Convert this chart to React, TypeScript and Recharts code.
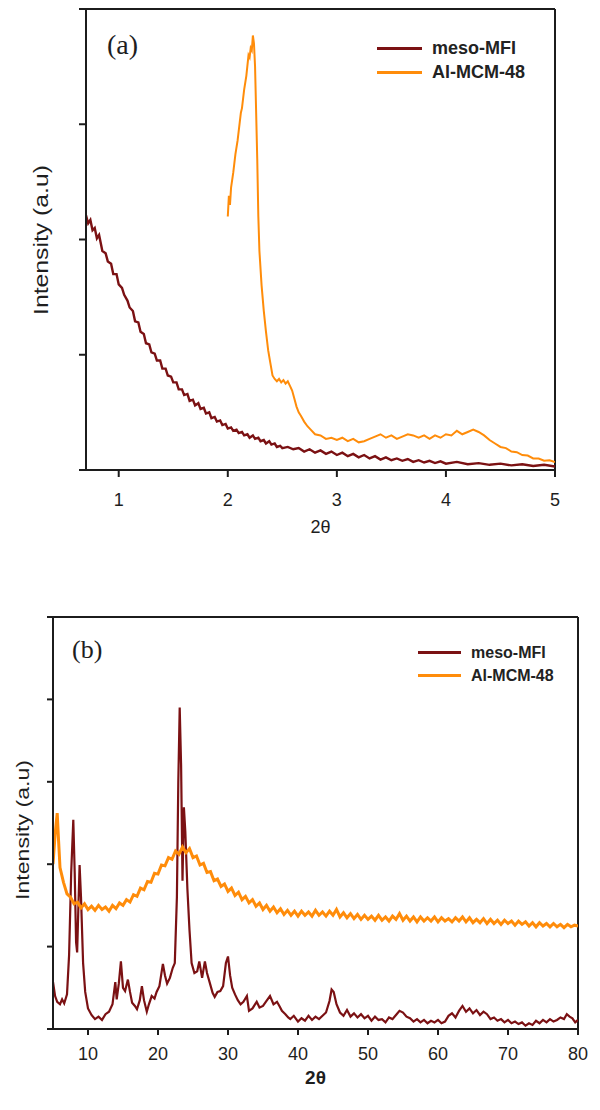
import React from "react";
import { LineChart, Line, XAxis, YAxis, Legend, ReferenceLine } from "recharts";

const MESO_COLOR = "#7b1113";
const MCM_COLOR = "#ff8c0a";
const AXIS_COLOR = "#1c1c1c";
const SANS = "'Liberation Sans', Arial, sans-serif";
const SERIF = "'Liberation Serif', 'Times New Roman', serif";

const seriesNames = ["meso-MFI", "Al-MCM-48"];

// panel (a): low angle
const xTicksA = [1, 2, 3, 4, 5];
const yTicksA = [0, 1, 2, 3, 4];

const mesoA: [number, number][] = [
  [0.7, 2.21], [0.72, 2.14], [0.74, 2.17], [0.76, 2.08], [0.78, 2.1], [0.8, 2.01], [0.82, 2.04],
  [0.85, 1.9], [0.88, 1.88], [0.9, 1.81], [0.93, 1.79], [0.95, 1.7], [0.98, 1.7], [1.0, 1.61],
  [1.03, 1.58], [1.05, 1.52], [1.08, 1.47], [1.1, 1.41], [1.13, 1.38], [1.15, 1.29], [1.18, 1.28],
  [1.2, 1.2], [1.23, 1.18], [1.25, 1.1], [1.28, 1.09], [1.3, 1.02], [1.33, 1.01], [1.35, 0.95],
  [1.38, 0.95], [1.4, 0.88], [1.43, 0.88], [1.45, 0.82], [1.48, 0.81], [1.5, 0.76], [1.53, 0.76],
  [1.55, 0.7], [1.58, 0.7], [1.6, 0.65], [1.63, 0.66], [1.65, 0.6], [1.68, 0.61], [1.7, 0.56],
  [1.73, 0.58], [1.75, 0.53], [1.78, 0.54], [1.8, 0.49], [1.83, 0.5], [1.85, 0.45], [1.88, 0.46],
  [1.9, 0.42], [1.93, 0.43], [1.95, 0.39], [1.98, 0.4], [2.0, 0.36], [2.03, 0.37], [2.05, 0.34],
  [2.08, 0.35], [2.1, 0.32], [2.13, 0.33], [2.15, 0.3], [2.18, 0.31], [2.2, 0.28], [2.23, 0.3],
  [2.25, 0.27], [2.28, 0.28], [2.3, 0.25], [2.33, 0.26], [2.35, 0.23], [2.38, 0.25], [2.4, 0.22],
  [2.43, 0.23], [2.45, 0.2], [2.48, 0.21], [2.5, 0.19], [2.55, 0.2], [2.6, 0.18], [2.65, 0.19],
  [2.7, 0.16], [2.75, 0.18], [2.8, 0.15], [2.85, 0.17], [2.9, 0.14], [2.95, 0.16], [3.0, 0.13],
  [3.05, 0.15], [3.1, 0.12], [3.15, 0.14], [3.2, 0.11], [3.25, 0.13], [3.3, 0.1], [3.35, 0.12],
  [3.4, 0.09], [3.45, 0.11], [3.5, 0.085], [3.55, 0.1], [3.6, 0.08], [3.65, 0.095], [3.7, 0.07],
  [3.75, 0.085], [3.8, 0.065], [3.85, 0.08], [3.9, 0.06], [3.95, 0.075], [4.0, 0.055], [4.1, 0.07],
  [4.2, 0.05], [4.3, 0.06], [4.4, 0.045], [4.5, 0.055], [4.6, 0.04], [4.7, 0.05], [4.8, 0.035],
  [4.9, 0.045], [5.0, 0.03],
];

const mcmA: [number, number][] = [
  [2.0, 2.2], [2.01, 2.38], [2.02, 2.3], [2.03, 2.45], [2.05, 2.58], [2.07, 2.74], [2.09, 2.86],
  [2.11, 3.02], [2.12, 3.1], [2.13, 3.14], [2.15, 3.3], [2.17, 3.42], [2.19, 3.6], [2.2, 3.58],
  [2.21, 3.66], [2.22, 3.64], [2.23, 3.77], [2.24, 3.7], [2.25, 3.5], [2.26, 3.1], [2.27, 2.7],
  [2.28, 2.2], [2.29, 1.9], [2.31, 1.6], [2.33, 1.38], [2.35, 1.2], [2.37, 1.04], [2.39, 0.93],
  [2.41, 0.82], [2.43, 0.79], [2.45, 0.77], [2.47, 0.79], [2.49, 0.76], [2.51, 0.78], [2.53, 0.75],
  [2.55, 0.77], [2.57, 0.73], [2.59, 0.69], [2.61, 0.62], [2.63, 0.55], [2.65, 0.5], [2.67, 0.47],
  [2.7, 0.42], [2.73, 0.38], [2.76, 0.35], [2.8, 0.31], [2.85, 0.3], [2.9, 0.27], [2.95, 0.28],
  [3.0, 0.26], [3.05, 0.28], [3.1, 0.25], [3.15, 0.27], [3.2, 0.24], [3.25, 0.25], [3.3, 0.27],
  [3.35, 0.29], [3.4, 0.31], [3.45, 0.28], [3.5, 0.3], [3.55, 0.27], [3.6, 0.29], [3.65, 0.31],
  [3.7, 0.3], [3.75, 0.28], [3.8, 0.3], [3.85, 0.27], [3.9, 0.3], [3.95, 0.28], [4.0, 0.31],
  [4.05, 0.3], [4.1, 0.34], [4.15, 0.31], [4.2, 0.33], [4.25, 0.35], [4.3, 0.33], [4.35, 0.3],
  [4.4, 0.26], [4.45, 0.23], [4.5, 0.2], [4.55, 0.19], [4.6, 0.16], [4.65, 0.155], [4.7, 0.13],
  [4.75, 0.125], [4.8, 0.1], [4.85, 0.1], [4.9, 0.08], [4.95, 0.085], [5.0, 0.07],
];

// panel (b): wide angle
const xTicksB = [10, 20, 30, 40, 50, 60, 70, 80];
const yTicksB = [0, 1, 2, 3, 4, 5];

const mesoB: [number, number][] = [
  [5.0, 0.57], [5.3, 0.4], [5.6, 0.33], [6.0, 0.3], [6.3, 0.36], [6.6, 0.31], [7.0, 0.42],
  [7.3, 0.9], [7.6, 1.9], [7.9, 2.54], [8.1, 1.9], [8.3, 1.05], [8.45, 0.93], [8.6, 1.4],
  [8.8, 1.99], [9.0, 1.6], [9.3, 0.8], [9.6, 0.45], [10.0, 0.25], [10.5, 0.17], [11.0, 0.12],
  [11.5, 0.15], [12.0, 0.11], [12.5, 0.18], [13.0, 0.21], [13.5, 0.3], [13.9, 0.57], [14.1, 0.36],
  [14.4, 0.55], [14.7, 0.82], [15.0, 0.5], [15.3, 0.46], [15.7, 0.6], [16.0, 0.45], [16.3, 0.32],
  [16.7, 0.28], [17.0, 0.24], [17.4, 0.35], [17.7, 0.52], [18.0, 0.35], [18.4, 0.21], [18.7, 0.3],
  [19.1, 0.4], [19.5, 0.37], [19.8, 0.45], [20.2, 0.52], [20.7, 0.79], [21.0, 0.65], [21.3, 0.55],
  [21.7, 0.62], [22.1, 0.74], [22.4, 0.8], [22.7, 1.6], [22.9, 3.0], [23.1, 3.9], [23.3, 3.2],
  [23.5, 1.8], [23.7, 2.69], [23.9, 2.4], [24.2, 1.7], [24.5, 1.2], [24.8, 0.8], [25.2, 0.68],
  [25.6, 0.7], [25.9, 0.82], [26.3, 0.62], [26.7, 0.82], [27.0, 0.68], [27.4, 0.56], [27.8, 0.44],
  [28.1, 0.39], [28.5, 0.45], [28.9, 0.46], [29.3, 0.52], [29.7, 0.8], [30.0, 0.88], [30.3, 0.65],
  [30.6, 0.5], [31.0, 0.42], [31.4, 0.35], [31.8, 0.3], [32.2, 0.33], [32.7, 0.4], [33.0, 0.22],
  [33.5, 0.25], [34.1, 0.33], [34.5, 0.26], [35.0, 0.28], [35.5, 0.34], [36.0, 0.4], [36.5, 0.3],
  [37.0, 0.33], [37.4, 0.27], [37.7, 0.22], [38.2, 0.18], [38.6, 0.14], [38.9, 0.12], [39.4, 0.16],
  [40.0, 0.09], [40.5, 0.13], [41.0, 0.1], [41.5, 0.16], [42.0, 0.11], [42.5, 0.15], [43.0, 0.12],
  [43.5, 0.16], [44.0, 0.2], [44.5, 0.34], [44.8, 0.48], [45.1, 0.45], [45.5, 0.3], [46.0, 0.2],
  [46.5, 0.16], [47.0, 0.23], [47.5, 0.15], [48.0, 0.19], [48.5, 0.14], [49.0, 0.18], [49.5, 0.13],
  [50.0, 0.16], [50.5, 0.1], [51.0, 0.15], [51.5, 0.11], [52.0, 0.12], [52.5, 0.08], [53.0, 0.14],
  [53.5, 0.12], [54.0, 0.17], [54.5, 0.22], [55.0, 0.2], [55.5, 0.15], [56.0, 0.13], [56.5, 0.09],
  [57.0, 0.12], [57.5, 0.08], [58.0, 0.11], [58.5, 0.07], [59.0, 0.1], [59.5, 0.08], [60.0, 0.11],
  [60.5, 0.07], [61.0, 0.09], [61.5, 0.16], [62.0, 0.19], [62.5, 0.14], [63.0, 0.22], [63.5, 0.28],
  [64.0, 0.21], [64.5, 0.25], [65.0, 0.19], [65.5, 0.23], [66.0, 0.17], [66.5, 0.21], [67.0, 0.18],
  [67.5, 0.12], [68.0, 0.14], [68.5, 0.1], [69.0, 0.12], [69.5, 0.08], [70.0, 0.11], [70.5, 0.07],
  [71.0, 0.09], [71.5, 0.06], [72.0, 0.08], [72.5, 0.04], [73.0, 0.07], [73.5, 0.05], [74.0, 0.1],
  [74.5, 0.07], [75.0, 0.11], [75.5, 0.08], [76.0, 0.12], [76.5, 0.09], [77.0, 0.11], [77.5, 0.14],
  [78.0, 0.12], [78.4, 0.18], [78.8, 0.15], [79.2, 0.13], [79.6, 0.08], [80.0, 0.11],
];

const mcmB: [number, number][] = [
  [5.0, 2.0], [5.3, 2.36], [5.6, 2.62], [5.8, 2.28], [6.0, 1.96], [6.5, 1.78], [7.0, 1.64],
  [7.5, 1.6], [8.0, 1.52], [8.5, 1.54], [9.0, 1.47], [9.5, 1.52], [10.0, 1.45], [10.5, 1.49],
  [11.0, 1.44], [11.5, 1.5], [12.0, 1.45], [12.5, 1.48], [13.0, 1.43], [13.5, 1.5], [14.0, 1.46],
  [14.5, 1.53], [15.0, 1.5], [15.5, 1.57], [16.0, 1.54], [16.5, 1.63], [17.0, 1.61], [17.5, 1.71],
  [18.0, 1.69], [18.5, 1.79], [19.0, 1.78], [19.5, 1.89], [20.0, 1.88], [20.5, 1.99], [21.0, 1.98],
  [21.5, 2.08], [22.0, 2.06], [22.5, 2.16], [23.0, 2.12], [23.5, 2.21], [24.0, 2.14], [24.5, 2.19],
  [25.0, 2.08], [25.5, 2.1], [26.0, 1.99], [26.5, 2.01], [27.0, 1.9], [27.5, 1.91], [28.0, 1.8],
  [28.5, 1.82], [29.0, 1.73], [29.5, 1.76], [30.0, 1.67], [30.5, 1.71], [31.0, 1.62], [31.5, 1.66],
  [32.0, 1.57], [32.5, 1.61], [33.0, 1.53], [33.5, 1.57], [34.0, 1.49], [34.5, 1.53], [35.0, 1.45],
  [35.5, 1.5], [36.0, 1.43], [36.5, 1.48], [37.0, 1.41], [37.5, 1.46], [38.0, 1.39], [38.5, 1.44],
  [39.0, 1.38], [39.5, 1.43], [40.0, 1.37], [40.5, 1.43], [41.0, 1.38], [41.5, 1.42], [42.0, 1.37],
  [42.5, 1.44], [43.0, 1.38], [43.5, 1.42], [44.0, 1.37], [44.5, 1.43], [45.0, 1.38], [45.5, 1.45],
  [46.0, 1.36], [46.5, 1.41], [47.0, 1.35], [47.5, 1.4], [48.0, 1.34], [48.5, 1.39], [49.0, 1.33],
  [49.5, 1.38], [50.0, 1.33], [50.5, 1.37], [51.0, 1.32], [51.5, 1.38], [52.0, 1.32], [52.5, 1.36],
  [53.0, 1.31], [53.5, 1.37], [54.0, 1.33], [54.5, 1.4], [55.0, 1.32], [55.5, 1.37], [56.0, 1.31],
  [56.5, 1.36], [57.0, 1.3], [57.5, 1.36], [58.0, 1.31], [58.5, 1.35], [59.0, 1.31], [59.5, 1.36],
  [60.0, 1.3], [60.5, 1.35], [61.0, 1.31], [61.5, 1.34], [62.0, 1.3], [62.5, 1.35], [63.0, 1.31],
  [63.5, 1.36], [64.0, 1.3], [64.5, 1.35], [65.0, 1.29], [65.5, 1.33], [66.0, 1.29], [66.5, 1.34],
  [67.0, 1.28], [67.5, 1.33], [68.0, 1.28], [68.5, 1.32], [69.0, 1.27], [69.5, 1.32], [70.0, 1.28],
  [70.5, 1.31], [71.0, 1.26], [71.5, 1.31], [72.0, 1.27], [72.5, 1.3], [73.0, 1.25], [73.5, 1.29],
  [74.0, 1.24], [74.5, 1.29], [75.0, 1.25], [75.5, 1.28], [76.0, 1.24], [76.5, 1.28], [77.0, 1.24],
  [77.5, 1.27], [78.0, 1.23], [78.5, 1.27], [79.0, 1.24], [79.5, 1.26], [80.0, 1.25],
];

const toRows = (pts: [number, number][]) => pts.map(([t, v]) => ({ t, v }));

type PanelProps = {
  top: number;
  height: number;
  margin: { top: number; right: number; bottom: number; left: number };
  xDomain: [number, number];
  xTicks: number[];
  yDomain: [number, number];
  yTicks: number[];
  meso: [number, number][];
  mcm: [number, number][];
  mesoWidth: number;
  mcmWidth: number;
  tickMargin: number;
  tickSize: number;
  letter: string;
  letterPos: { left: number; top: number; size: number };
  legendPos: { left: number; top: number; size: number; row: number; line: number; weight: string };
  yLabel: { x: number; y: number; size: number; len: number };
  xLabel: { y: number; size: number; weight: string };
};

function Panel(p: PanelProps) {
  const renderLegend = () => (
    <div style={{ fontFamily: SANS }}>
      {seriesNames.map((name, i) => (
        <div
          key={name}
          style={{ display: "flex", alignItems: "center", height: p.legendPos.row }}
        >
          <span
            style={{
              display: "inline-block",
              width: p.legendPos.line,
              height: 3,
              background: i === 0 ? MESO_COLOR : MCM_COLOR,
              marginRight: 10,
            }}
          />
          <span
            style={{
              fontSize: p.legendPos.size,
              fontWeight: p.legendPos.weight as any,
              color: "#222",
              whiteSpace: "nowrap",
            }}
          >
            {name}
          </span>
        </div>
      ))}
    </div>
  );

  return (
    <div style={{ position: "absolute", left: 0, top: p.top, width: 600, height: p.height }}>
      <LineChart width={600} height={p.height} margin={p.margin}>
        <XAxis
          dataKey="t"
          type="number"
          domain={p.xDomain}
          ticks={p.xTicks}
          allowDataOverflow
          height={30}
          axisLine={{ stroke: AXIS_COLOR, strokeWidth: 2 }}
          tickLine={{ stroke: AXIS_COLOR, strokeWidth: 2 }}
          tickSize={p.tickSize}
          tickMargin={p.tickMargin}
          tick={{ fill: "#1e1e1e", fontSize: 18, fontFamily: SANS }}
          label={{
            content: () => (
              <text
                x={(p.margin.left + 30 + 600 - p.margin.right) / 2}
                y={p.xLabel.y}
                textAnchor="middle"
                dominantBaseline="central"
                fontFamily={SANS}
                fontSize={p.xLabel.size}
                fontWeight={p.xLabel.weight}
                fill="#1e1e1e"
              >
                2θ
              </text>
            ),
          }}
        />
        <YAxis
          type="number"
          domain={p.yDomain}
          ticks={p.yTicks}
          allowDataOverflow
          width={30}
          axisLine={{ stroke: AXIS_COLOR, strokeWidth: 2 }}
          tickLine={{ stroke: AXIS_COLOR, strokeWidth: 2 }}
          tickSize={p.tickSize}
          tickFormatter={() => ""}
          label={{
            content: () => (
              <text
                x={p.yLabel.x}
                y={p.yLabel.y}
                transform={`rotate(-90 ${p.yLabel.x} ${p.yLabel.y})`}
                textAnchor="middle"
                dominantBaseline="central"
                fontFamily={SANS}
                fontSize={p.yLabel.size}
                textLength={p.yLabel.len}
                lengthAdjust="spacingAndGlyphs"
                fill="#1e1e1e"
              >
                Intensity (a.u)
              </text>
            ),
          }}
        />
        <ReferenceLine y={p.yDomain[1]} stroke={AXIS_COLOR} strokeWidth={2} />
        <ReferenceLine x={p.xDomain[1]} stroke={AXIS_COLOR} strokeWidth={2} />
        <Legend
          layout="vertical"
          align="center"
          verticalAlign="middle"
          content={renderLegend}
          wrapperStyle={{ left: p.legendPos.left, top: p.legendPos.top, width: "auto" }}
        />
        <Line
          data={toRows(p.meso)}
          dataKey="v"
          name={seriesNames[0]}
          type="linear"
          stroke={MESO_COLOR}
          strokeWidth={p.mesoWidth}
          dot={false}
          isAnimationActive={false}
        />
        <Line
          data={toRows(p.mcm)}
          dataKey="v"
          name={seriesNames[1]}
          type="linear"
          stroke={MCM_COLOR}
          strokeWidth={p.mcmWidth}
          dot={false}
          isAnimationActive={false}
        />
      </LineChart>
      <div
        style={{
          position: "absolute",
          left: p.letterPos.left,
          top: p.letterPos.top,
          fontFamily: SERIF,
          fontSize: p.letterPos.size,
          lineHeight: `${p.letterPos.size}px`,
          color: "#1e1e1e",
        }}
      >
        {p.letter}
      </div>
    </div>
  );
}

export default function App() {
  return (
    <div style={{ position: "absolute", left: 0, top: 0, width: 600, height: 1110, background: "#fff" }}>
      <Panel
        top={0}
        height={560}
        margin={{ top: 9, right: 45, bottom: 60, left: 56 }}
        xDomain={[0.7, 5]}
        xTicks={xTicksA}
        yDomain={[0, 4]}
        yTicks={yTicksA}
        meso={mesoA}
        mcm={mcmA}
        mesoWidth={2.4}
        mcmWidth={2}
        tickMargin={16}
        tickSize={7}
        letter="(a)"
        letterPos={{ left: 107, top: 31, size: 28 }}
        legendPos={{ left: 377, top: 36, size: 18, row: 24, line: 45, weight: "bold" }}
        yLabel={{ x: 40, y: 240, size: 21, len: 150 }}
        xLabel={{ y: 527, size: 18, weight: "normal" }}
      />
      <Panel
        top={560}
        height={550}
        margin={{ top: 57, right: 22, bottom: 51, left: 23 }}
        xDomain={[5, 80]}
        xTicks={xTicksB}
        yDomain={[0, 5]}
        yTicks={yTicksB}
        meso={mesoB}
        mcm={mcmB}
        mesoWidth={2.2}
        mcmWidth={3}
        tickMargin={12}
        tickSize={6}
        letter="(b)"
        letterPos={{ left: 72, top: 77, size: 26 }}
        legendPos={{ left: 418, top: 81, size: 16, row: 23, line: 43, weight: "bold" }}
        yLabel={{ x: 22, y: 270, size: 19, len: 140 }}
        xLabel={{ y: 517, size: 19, weight: "bold" }}
      />
    </div>
  );
}
